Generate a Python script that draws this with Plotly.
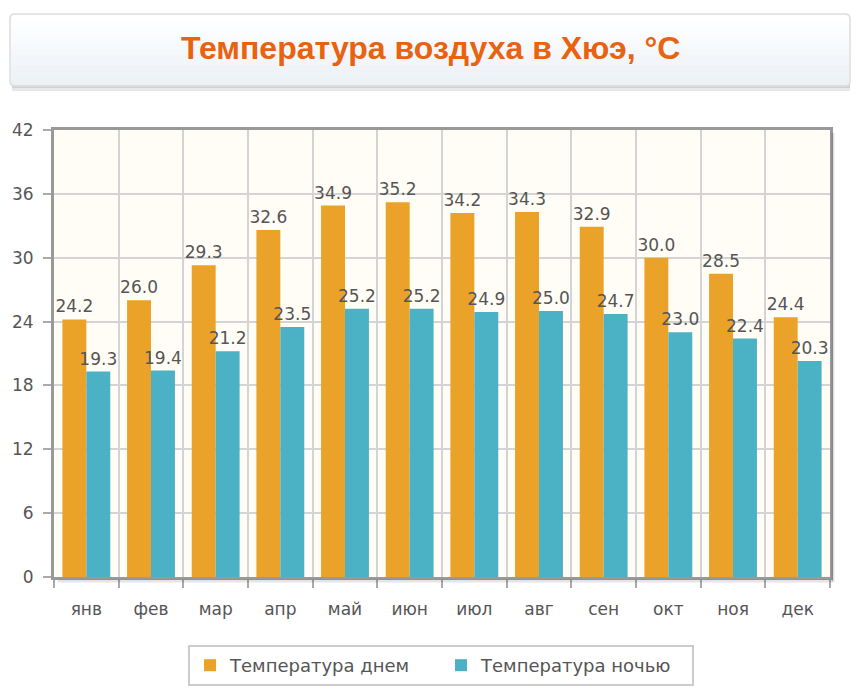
import plotly.graph_objects as go

months = ["янв", "фев", "мар", "апр", "май", "июн", "июл", "авг", "сен", "окт", "ноя", "дек"]
day_temp = [24.2, 26.0, 29.3, 32.6, 34.9, 35.2, 34.2, 34.3, 32.9, 30.0, 28.5, 24.4]
night_temp = [19.3, 19.4, 21.2, 23.5, 25.2, 25.2, 24.9, 25.0, 24.7, 23.0, 22.4, 20.3]
y_ticks = [0, 6, 12, 18, 24, 30, 36, 42]
title_text = "Температура воздуха в Хюэ, °C"
series_names = ["Температура днем", "Температура ночью"]

OFF = 8  # page body margin
W, H = 867 - 2 * OFF, 699 - 2 * OFF
L, R, T, B = 54, 830, 130, 577  # plot area in screen px


def X(px):
    return (px - L) / (R - L)


def Y(py):
    return (B - py) / (B - T)


label_font = dict(family="DejaVu Sans", size=17, color="#555555")

fig = go.Figure()
fig.add_trace(go.Bar(
    x=months, y=day_temp, name=series_names[0],
    marker=dict(color="#EAA228", line=dict(width=0)),
    text=[f"{v:.1f}" for v in day_temp], textposition="outside",
    textfont=label_font, constraintext="none",
    cliponaxis=False,
))
fig.add_trace(go.Bar(
    x=months, y=night_temp, name=series_names[1],
    marker=dict(color="#4BB2C5", line=dict(width=0)),
    text=[f"{v:.1f}" for v in night_temp], textposition="outside",
    textfont=label_font, constraintext="none",
    cliponaxis=False,
))

shapes = []
# title box shadow
shapes.append(dict(type="rect", xref="paper", yref="paper",
                   x0=X(12), x1=X(850), y0=Y(91), y1=Y(84),
                   fillcolor="#e8e8e8", line=dict(width=0), layer="below"))
shapes.append(dict(type="rect", xref="paper", yref="paper",
                   x0=X(12), x1=X(850), y0=Y(88), y1=Y(84),
                   fillcolor="#d0d0d0", line=dict(width=0), layer="below"))
# gradient stripes
n = 14
top, bot = 15, 85
c0 = (255, 255, 255)
c1 = (236, 241, 246)
for i in range(n):
    t = i / (n - 1)
    c = tuple(int(round(c0[k] + (c1[k] - c0[k]) * t)) for k in range(3))
    ya = top + (bot - top) * i / n
    yb = top + (bot - top) * (i + 1) / n
    shapes.append(dict(type="rect", xref="paper", yref="paper",
                       x0=X(11), x1=X(849), y0=Y(yb + 0.5), y1=Y(ya),
                       fillcolor="rgb(%d,%d,%d)" % c, line=dict(width=0), layer="below"))
# rounded border
r = 5
x0p, x1p, y0p, y1p = 10, 850, 14, 86


def P(px, py):
    return f"{X(px)},{Y(py)}"


path = (f"M {P(x0p + r, y0p)} L {P(x1p - r, y0p)} Q {P(x1p, y0p)} {P(x1p, y0p + r)} "
        f"L {P(x1p, y1p - r)} Q {P(x1p, y1p)} {P(x1p - r, y1p)} "
        f"L {P(x0p + r, y1p)} Q {P(x0p, y1p)} {P(x0p, y1p - r)} "
        f"L {P(x0p, y0p + r)} Q {P(x0p, y0p)} {P(x0p + r, y0p)} Z")
shapes.append(dict(type="path", xref="paper", yref="paper", path=path,
                   line=dict(color="#dddddd", width=1.5), layer="below"))

# plot frame shadow
shapes.append(dict(type="line", xref="paper", yref="paper",
                   x0=X(833), x1=X(833), y0=Y(582), y1=Y(133),
                   line=dict(color="rgba(0,0,0,0.12)", width=3)))
shapes.append(dict(type="line", xref="paper", yref="paper",
                   x0=X(58), x1=X(833), y0=Y(581), y1=Y(581),
                   line=dict(color="rgba(0,0,0,0.10)", width=3)))

fig.update_layout(
    width=W, height=H,
    margin=dict(l=L - OFF, r=(OFF + W) - R, t=T - OFF, b=(OFF + H) - B, autoexpand=False),
    paper_bgcolor="#ffffff",
    plot_bgcolor="#fffdf6",
    barmode="group",
    bargap=0.26,
    bargroupgap=0,
    shapes=shapes,
    showlegend=True,
    legend=dict(orientation="h", x=X(441), xanchor="center", y=Y(645), yanchor="top",
                bordercolor="#cccccc", borderwidth=2, bgcolor="#ffffff",
                font=dict(family="DejaVu Sans", size=18, color="#555555"),
                entrywidth=206, itemwidth=30,
                itemsizing="constant", traceorder="normal"),
    annotations=[dict(text="<b>" + title_text + "</b>", xref="paper", yref="paper",
                      x=X(430), y=Y(48), xanchor="center", yanchor="middle",
                      showarrow=False,
                      font=dict(family="Liberation Sans", size=32, color="#E8620F"))],
    xaxis=dict(
        type="category", tickson="boundaries", ticks="outside", ticklen=8,
        tickcolor="#aaaaaa", tickwidth=2,
        showgrid=True, gridcolor="#d4d4d4", gridwidth=2,
        showline=True, linecolor="#999999", linewidth=3, mirror=True,
        tickfont=dict(family="DejaVu Sans", size=17, color="#555555"),
        ticklabelstandoff=15,
    ),
    yaxis=dict(
        range=[0, 42], tickvals=y_ticks, ticktext=[str(v) for v in y_ticks],
        ticks="outside", ticklen=8, tickcolor="#aaaaaa", tickwidth=2,
        showgrid=True, gridcolor="#d4d4d4", gridwidth=2, zeroline=False,
        showline=True, linecolor="#999999", linewidth=3, mirror=True,
        tickfont=dict(family="DejaVu Sans", size=17, color="#555555"),
        ticklabelstandoff=6,
    ),
)

fig.write_html("out.html")
